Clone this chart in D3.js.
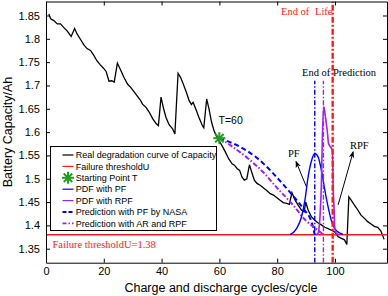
<!DOCTYPE html>
<html>
<head>
<meta charset="utf-8">
<script src="https://d3js.org/d3.v7.min.js"></script>
<style>
  body { margin: 0; background: #fff; }
  text { font-family: "Liberation Sans", Arial, sans-serif; }
  .serif { font-family: "Liberation Serif", "Times New Roman", serif; }
</style>
</head>
<body>
<div id="chart"></div>
<script>
// measured capacity per cycle
var realCycles = [1, 1.6, 2.7, 3.9, 5, 6.2, 7.3, 8.7, 9.9, 10.8, 11.9, 13.1, 14.2, 15.4, 16.5, 17.6, 18.8, 19.9, 20.8,
  21.8, 22.8, 23.6, 24.7, 25.9, 27, 28.2, 29.3, 30.5, 31.6, 32.7, 33.4, 34.6, 35.7, 36.9, 38, 38.9, 39.8, 40.7,
  41.5, 42.6, 43.8, 44.6, 45.7, 46.6, 47.5, 48.6, 49.5, 50.3, 50.9, 51.8, 52.9, 54.1, 54.6, 55.6, 56.4, 57.3,
  58.1, 59.2, 60.9, 62.1, 63.2, 64.4, 65.2, 66.1, 67, 67.8, 68.6, 69.5, 70.4, 71.2, 72.1, 73, 74.1, 75.3, 76.4,
  77.6, 78.7, 79.8, 81, 82.1, 83.3, 84.2, 85.1, 86.2, 87.3, 88.4, 89.3, 89.9, 90.7, 91.9, 93, 94.2, 95.3, 96.5,
  97.6, 98.7, 99.9, 101, 102.2, 103.3, 104.1, 104.8, 105.6, 106.8, 107.9, 109, 110.2, 111.3, 112.5, 113.6,
  114.8, 115.9, 117];
var realCapacity = [1.853, 1.843, 1.839, 1.832, 1.832, 1.824, 1.817, 1.805, 1.822, 1.810, 1.799, 1.787, 1.779,
  1.775, 1.765, 1.753, 1.744, 1.737, 1.730, 1.709, 1.710, 1.707, 1.748, 1.732, 1.717, 1.703, 1.696, 1.686,
  1.677, 1.668, 1.660, 1.653, 1.643, 1.629, 1.619, 1.614, 1.675, 1.650, 1.632, 1.616, 1.607, 1.596, 1.726,
  1.717, 1.703, 1.685, 1.668, 1.659, 1.664, 1.650, 1.632, 1.614, 1.609, 1.671, 1.650, 1.621, 1.604, 1.588,
  1.571, 1.557, 1.543, 1.532, 1.529, 1.522, 1.518, 1.504, 1.497, 1.500, 1.530, 1.514, 1.497, 1.490, 1.486,
  1.480, 1.475, 1.468, 1.465, 1.460, 1.454, 1.449, 1.447, 1.445, 1.470, 1.454, 1.443, 1.433, 1.429, 1.450,
  1.433, 1.418, 1.411, 1.405, 1.401, 1.396, 1.393, 1.390, 1.386, 1.376, 1.372, 1.369, 1.359, 1.461, 1.454,
  1.443, 1.433, 1.422, 1.415, 1.408, 1.403, 1.398, 1.396, 1.388, 1.370];

// prediction with PF (NASA) and with AR + RPF, both start at T = 60
var pfPredCycles = [60, 65, 70, 75, 80, 85, 89, 92, 93];
var pfPredCapacity = [1.587, 1.575, 1.558, 1.534, 1.502, 1.467, 1.436, 1.405, 1.380];
var rpfPredCycles = [60, 64, 70, 75, 80, 85, 90, 94, 96];
var rpfPredCapacity = [1.587, 1.571, 1.543, 1.515, 1.480, 1.447, 1.410, 1.390, 1.380];

// pdf curves of the end of life, drawn on top of the threshold
var pdfPfCycles = [84.4, 86.7, 88.4, 89.6, 90.7, 91.9, 93, 94.2, 95.3, 96.5, 97.6, 98.7, 99.9, 101, 102.7];
var pdfPfValue = [1.380, 1.393, 1.418, 1.454, 1.504, 1.539, 1.554, 1.546, 1.518, 1.475, 1.440, 1.411, 1.393, 1.386, 1.381];
var pdfRpfCycles = [93.5, 94.2, 94.8, 95.3, 95.6, 96.1, 96.7, 97.3, 97.8, 98.5, 99.1, 99.4, 99.7, 99.9, 100.5, 101.5];
var pdfRpfValue = [1.380, 1.384, 1.418, 1.490, 1.580, 1.655, 1.632, 1.604, 1.575, 1.568, 1.560, 1.475, 1.433, 1.397, 1.383, 1.380];

var startCycle = 60;
var startCapacity = 1.587;
var threshold = 1.38;
var endPredPF = 93;
var endPredRPF = 96;
var endOfLife = 99.2;
var predLineTop = 1.71;

var xTicks = [0, 20, 40, 60, 80, 100];
var yTicks = [1.35, 1.4, 1.45, 1.5, 1.55, 1.6, 1.65, 1.7, 1.75, 1.8, 1.85];
var legendLabels = ["Real degradation curve of Capacity", "Failure thresholdU", "Starting Point T",
  "PDF with PF", "PDF with RPF", "Prediction with PF by NASA", "Prediction with AR and RPF"];

// sizes
var width = 388, height = 296;
var plot = {left: 46, right: 387, top: 1.5, bottom: 262.7};
var blue = "#0000ff", purple = "#a020f0", red = "#ff1a1a", green = "#1f9e1f";

var svg = d3.select("#chart").append("svg")
    .attr("width", width)
    .attr("height", height);

var xScale = d3.scaleLinear().domain([0, 118]).range([plot.left, plot.right]);
var yScale = d3.scaleLinear().domain([1.32, 1.88]).range([plot.bottom, plot.top]);

// arrow marker
svg.append("defs").append("marker")
    .attr("id", "head")
    .attr("viewBox", "0 0 10 10")
    .attr("refX", 9).attr("refY", 5)
    .attr("markerWidth", 7).attr("markerHeight", 7)
    .attr("orient", "auto")
  .append("path")
    .attr("d", "M0,1 L10,5 L0,9 L3,5 Z")
    .attr("fill", "#000");

// helper for a line through the scales
function lineOf(xs, ys, curve) {
  return d3.line()
      .x(function(d, i) { return xScale(xs[i]); })
      .y(function(d, i) { return yScale(ys[i]); })
      .curve(curve || d3.curveLinear)(xs);
}

// clip to the axes box
svg.append("clipPath").attr("id", "box")
  .append("rect")
    .attr("x", plot.left).attr("y", plot.top)
    .attr("width", plot.right - plot.left).attr("height", plot.bottom - plot.top);

var g = svg.append("g").attr("clip-path", "url(#box)");

// real curve
g.append("path")
    .attr("d", lineOf(realCycles, realCapacity))
    .attr("fill", "none").attr("stroke", "#000").attr("stroke-width", 1.3);

// failure threshold
g.append("line")
    .attr("x1", plot.left).attr("x2", plot.right)
    .attr("y1", yScale(threshold)).attr("y2", yScale(threshold))
    .attr("stroke", red).attr("stroke-width", 1.4);

// predictions
g.append("path")
    .attr("d", lineOf(pfPredCycles, pfPredCapacity, d3.curveMonotoneX))
    .attr("fill", "none").attr("stroke", blue).attr("stroke-width", 2)
    .attr("stroke-dasharray", "5,3");
g.append("path")
    .attr("d", lineOf(rpfPredCycles, rpfPredCapacity, d3.curveMonotoneX))
    .attr("fill", "none").attr("stroke", purple).attr("stroke-width", 2)
    .attr("stroke-dasharray", "5,2,1.5,2");

// pdfs
g.append("path")
    .attr("d", lineOf(pdfPfCycles, pdfPfValue, d3.curveMonotoneX))
    .attr("fill", "none").attr("stroke", blue).attr("stroke-width", 1.4);
g.append("path")
    .attr("d", lineOf(pdfRpfCycles, pdfRpfValue, d3.curveMonotoneX))
    .attr("fill", "none").attr("stroke", purple).attr("stroke-width", 1.6);

// vertical end of prediction / end of life lines
g.append("line")
    .attr("x1", xScale(endPredPF)).attr("x2", xScale(endPredPF))
    .attr("y1", plot.bottom).attr("y2", yScale(predLineTop))
    .attr("stroke", blue).attr("stroke-width", 1.4).attr("stroke-dasharray", "5,2,1.5,2");
g.append("line")
    .attr("x1", xScale(endPredRPF)).attr("x2", xScale(endPredRPF))
    .attr("y1", plot.bottom).attr("y2", yScale(predLineTop))
    .attr("stroke", purple).attr("stroke-width", 1.4).attr("stroke-dasharray", "5,2,1.5,2");
g.append("line")
    .attr("x1", xScale(endOfLife)).attr("x2", xScale(endOfLife))
    .attr("y1", plot.bottom).attr("y2", plot.top)
    .attr("stroke", red).attr("stroke-width", 2.4).attr("stroke-dasharray", "6,2,2,2");

// green asterisk
function asterisk(sel, cx, cy, r) {
  var a = sel.append("g").attr("stroke", green).attr("stroke-width", 2);
  [0, 45, 90, 135].forEach(function(deg) {
    var t = deg * Math.PI / 180;
    a.append("line")
        .attr("x1", cx - r * Math.cos(t)).attr("y1", cy - r * Math.sin(t))
        .attr("x2", cx + r * Math.cos(t)).attr("y2", cy + r * Math.sin(t));
  });
}
asterisk(svg, xScale(startCycle), yScale(startCapacity), 6);

// axes, matlab style: ticks inward on all four sides
svg.append("g")
    .attr("transform", "translate(0," + plot.bottom + ")")
    .call(d3.axisBottom(xScale).tickValues(xTicks).tickSizeInner(-4).tickSizeOuter(0).tickPadding(5));
svg.append("g")
    .attr("transform", "translate(0," + plot.top + ")")
    .call(d3.axisTop(xScale).tickValues(xTicks).tickSizeInner(-4).tickSizeOuter(0).tickFormat(""));
svg.append("g")
    .attr("transform", "translate(" + plot.left + ",0)")
    .call(d3.axisLeft(yScale).tickValues(yTicks).tickSizeInner(-4).tickSizeOuter(0).tickPadding(6)
      .tickFormat(d3.format("")));
svg.append("g")
    .attr("transform", "translate(" + plot.right + ",0)")
    .call(d3.axisRight(yScale).tickValues(yTicks).tickSizeInner(-4).tickSizeOuter(0).tickFormat(""));

svg.selectAll(".tick text")
    .attr("font-family", "Liberation Sans, Arial, sans-serif")
    .attr("font-size", 11)
    .attr("fill", "#000");
svg.selectAll(".domain, .tick line").attr("stroke", "#000");

// axis titles
svg.append("text")
    .attr("x", 221).attr("y", 292)
    .attr("text-anchor", "middle")
    .attr("font-size", 12.5)
    .text("Charge and discharge cycles/cycle");
svg.append("text")
    .attr("transform", "translate(12," + 132 + ") rotate(-90)")
    .attr("text-anchor", "middle")
    .attr("font-size", 12.5)
    .text("Battery Capacity/Ah");

// annotations
svg.append("text").attr("class", "serif")
    .attr("x", 52.5).attr("y", 247.5)
    .attr("font-size", 10.5).attr("fill", red)
    .text("Failure thresholdU=1.38");
svg.append("text")
    .attr("x", 218.5).attr("y", 124)
    .attr("font-size", 10.5)
    .text("T=60");
svg.append("text").attr("class", "serif")
    .attr("x", 281).attr("y", 15)
    .attr("font-size", 10.5).attr("fill", red)
    .text("End of");
svg.append("text").attr("class", "serif")
    .attr("x", 315).attr("y", 15)
    .attr("font-size", 10.5).attr("fill", red)
    .text("Life");
svg.append("text").attr("class", "serif")
    .attr("x", 302).attr("y", 76)
    .attr("font-size", 10.5)
    .text("End of Prediction");
svg.append("text").attr("class", "serif")
    .attr("x", 288).attr("y", 157)
    .attr("font-size", 10.5)
    .text("PF");
svg.append("text").attr("class", "serif")
    .attr("x", 350).attr("y", 149)
    .attr("font-size", 10.5)
    .text("RPF");

// arrows
svg.append("line")
    .attr("x1", xScale(90.1)).attr("y1", yScale(1.483))
    .attr("x2", xScale(86.5)).attr("y2", yScale(1.537))
    .attr("stroke", "#000").attr("stroke-width", 1)
    .attr("marker-end", "url(#head)");
svg.append("line")
    .attr("x1", xScale(101.1)).attr("y1", yScale(1.444))
    .attr("x2", xScale(106.3)).attr("y2", yScale(1.558))
    .attr("stroke", "#000").attr("stroke-width", 1)
    .attr("marker-end", "url(#head)");

// legend
var legend = svg.append("g");
legend.append("rect")
    .attr("x", 50.5).attr("y", 146.5)
    .attr("width", 166).attr("height", 84)
    .attr("fill", "#fff").attr("stroke", "#000").attr("stroke-width", 1);

var legendStyle = [
  {color: "#000", dash: null},
  {color: red, dash: null},
  {color: green, marker: true},
  {color: blue, dash: null},
  {color: purple, dash: null},
  {color: blue, dash: "4,2"},
  {color: purple, dash: "4,2,1.5,2"}
];

legendLabels.forEach(function(label, i) {
  var y = 155 + i * 11.4;
  var s = legendStyle[i];
  if (s.marker) {
    asterisk(legend, 68, y, 6);
  } else {
    legend.append("line")
        .attr("x1", 62.5).attr("x2", 73.5)
        .attr("y1", y).attr("y2", y)
        .attr("stroke", s.color).attr("stroke-width", i >= 5 ? 1.8 : 1.2)
        .attr("stroke-dasharray", s.dash);
  }
  legend.append("text")
      .attr("x", 75.7).attr("y", y)
      .attr("dy", "0.35em")
      .attr("font-size", 9)
      .text(label);
});
</script>
</body>
</html>
